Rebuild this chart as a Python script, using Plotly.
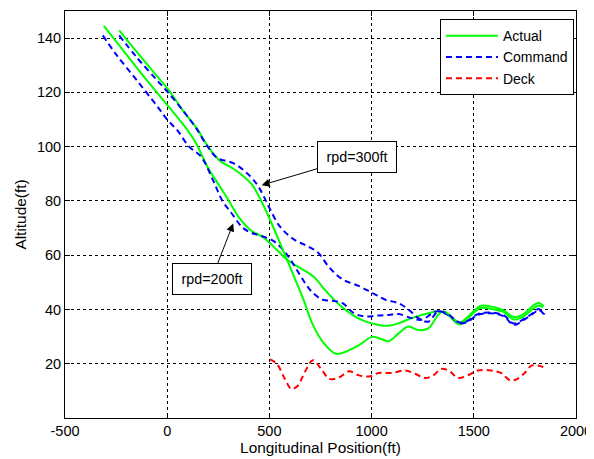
import plotly.graph_objects as go

# ---- data ----
cmd200_x = [-315, -250, -150, -50, 0, 50, 107, 165, 228, 270, 310, 367, 407, 455, 519, 584, 648, 705, 761, 810, 858, 914, 971, 1035, 1084, 1132, 1196, 1245, 1317,
            1374, 1430, 1471, 1519, 1583, 1648, 1696, 1745, 1793, 1817, 1845]
cmd200_y = [141, 134, 124.6, 115, 110, 106, 100, 96.4, 87, 80, 76, 70.3, 68.4, 67.2, 65.3, 60.4, 52.9, 46.7, 43.6, 43.2, 42.3, 38.6, 37.4, 37.8, 38.0, 38.3, 36.8, 36.2, 39.3,
            38.0, 34.9, 35.5, 38.0, 38.6, 37.4, 34.3, 36.2, 38.6, 39.9, 38.0]

act200_x = [-310, -200, -100, 4, 80, 141, 197, 260, 302, 350, 407, 471, 536, 584, 648, 713, 778, 842, 906, 971, 1035, 1084, 1132, 1196, 1277, 1326,
            1374, 1430, 1503, 1535, 1600, 1648, 1696, 1745, 1793, 1817, 1838]
act200_y = [144.5, 134, 124.5, 115, 108, 101.3, 92.6, 85, 80, 74, 69.3, 66.5, 62, 58.5, 55.4, 52.3, 46.7, 41.7, 38, 35.5, 34.3, 34.0, 34.9, 36.8, 38.6, 39.3,
            38.0, 34.5, 39.0, 40.6, 40.0, 39.0, 36.3, 37.5, 40.5, 41.4, 40.8]

cmd300_x = [-235, -150, -50, 4, 80, 140, 197, 246, 324, 391, 440, 470, 503, 552, 616, 681, 737, 794, 858, 939, 1003, 1068, 1132, 1180, 1229, 1277, 1326,
            1374, 1430, 1471, 1519, 1583, 1648, 1696, 1745, 1793, 1817, 1847]
cmd300_y = [141, 133, 124.5, 120, 113, 107, 100.1, 95.8, 93.9, 90.2, 86, 82, 77, 70.5, 66, 63.5, 61, 55.4, 51.1, 48.6, 46.1, 43.6, 42.3, 40, 36.8, 35.5, 39.3,
            38.2, 35.2, 35.8, 38.3, 38.9, 37.8, 34.8, 36.5, 38.9, 40.2, 38.2]

act300_x = [-235, -150, -50, 4, 80, 149, 200, 262, 310, 358, 415, 470, 519, 568, 616, 664, 713, 761, 826, 890, 939, 1003, 1050, 1084, 1132, 1180, 1229, 1277, 1326, 1350,
            1374, 1430, 1503, 1535, 1600, 1648, 1696, 1745, 1793, 1817, 1842]
act300_y = [142.9, 135, 126, 121.2, 113, 106.3, 100, 94.5, 92.5, 90, 86, 78.5, 70.3, 61.6, 52.9, 44.2, 34.3, 28.1, 23.7, 25, 26.9, 29.9, 29, 28.3, 31.2, 33.7, 32.4, 33.0, 38.0, 39.3,
            38.5, 35.2, 39.6, 41.4, 40.8, 39.6, 37.2, 38.4, 41.6, 42.4, 41.2]

deck_x = [503, 536, 576, 608, 640, 673, 713, 753, 794, 842, 890, 939, 987, 1035, 1100, 1164, 1213, 1261, 1301, 1342, 1382, 1422, 1471, 1519, 1583, 1632, 1680, 1712, 1745, 1785, 1840]
deck_y = [21.6, 20.0, 14.4, 10.7, 12.0, 16.9, 21.3, 18.1, 14.4, 15.0, 17.2, 15.7, 15.3, 16.6, 16.6, 17.5, 16.3, 14.7, 15.7, 18.1, 17.2, 14.8, 15.7, 17.5, 17.5, 16.6, 13.8, 14.4, 16.3, 19.4, 18.8]

x_ticks = [-500, 0, 500, 1000, 1500, 2000]
y_ticks = [20, 40, 60, 80, 100, 120, 140]

GREEN = "#00FF00"
BLUE = "#0000FF"
RED = "#FF0000"
DASH = "6px,4px"
FAM = "Liberation Sans, Arial, sans-serif"

fig = go.Figure()
fig.add_trace(go.Scatter(x=act200_x, y=act200_y, mode="lines", name="Actual", legendgroup="a",
                         line=dict(color=GREEN, width=2, shape="spline")))
fig.add_trace(go.Scatter(x=cmd200_x, y=cmd200_y, mode="lines", name="Command", legendgroup="c",
                         line=dict(color=BLUE, width=2, dash=DASH, shape="spline")))
fig.add_trace(go.Scatter(x=deck_x, y=deck_y, mode="lines", name="Deck", legendgroup="d",
                         line=dict(color=RED, width=2, dash=DASH, shape="spline")))
fig.add_trace(go.Scatter(x=act300_x, y=act300_y, mode="lines", name="Actual", legendgroup="a", showlegend=False,
                         line=dict(color=GREEN, width=2, shape="spline")))
fig.add_trace(go.Scatter(x=cmd300_x, y=cmd300_y, mode="lines", name="Command", legendgroup="c", showlegend=False,
                         line=dict(color=BLUE, width=2, dash=DASH, shape="spline")))

tick_font = dict(family=FAM, size=14.5, color="black")
title_font = dict(family=FAM, size=15.4, color="black")

fig.update_xaxes(range=[-500, 2000], tickvals=x_ticks, ticktext=[str(v) for v in x_ticks],
                 showgrid=True, gridcolor="black", griddash="3px,3px", gridwidth=1,
                 showline=True, linecolor="black", linewidth=1, mirror="allticks",
                 ticks="inside", ticklen=5, tickcolor="black", zeroline=False, automargin=False,
                 tickfont=tick_font, title=dict(text="Longitudinal Position(ft)", font=title_font, standoff=2))
fig.update_yaxes(range=[0, 150], tickvals=y_ticks, ticktext=[str(v) for v in y_ticks],
                 showgrid=True, gridcolor="black", griddash="3px,3px", gridwidth=1,
                 showline=True, linecolor="black", linewidth=1, mirror="allticks",
                 ticks="inside", ticklen=5, tickcolor="black", zeroline=False, automargin=False,
                 tickfont=tick_font, title=dict(text="Altitude(ft)", font=title_font, standoff=6))

ann_font = dict(family=FAM, size=14.3, color="black")
fig.add_annotation(x=462, y=85.8, ax=928, ay=96.2, axref="x", ayref="y",
                   text="rpd=300ft", showarrow=True, arrowhead=2, arrowsize=1.6, arrowwidth=1,
                   arrowcolor="black", bgcolor="white", bordercolor="black", borderwidth=1,
                   borderpad=5, width=68, height=20, font=ann_font)
fig.add_annotation(x=323, y=71.7, ax=218, ay=51.4, axref="x", ayref="y",
                   text="rpd=200ft", showarrow=True, arrowhead=2, arrowsize=1.6, arrowwidth=1,
                   arrowcolor="black", bgcolor="white", bordercolor="black", borderwidth=1,
                   borderpad=5, width=68, height=20, font=ann_font)

fig.update_layout(
    width=586, height=451,
    margin=dict(l=57, r=18, t=3, b=41),
    paper_bgcolor="white", plot_bgcolor="white",
    font=tick_font,
    showlegend=True,
    legend=dict(x=0.996, y=0.98, xanchor="right", yanchor="top",
                bgcolor="white", bordercolor="black", borderwidth=1,
                font=dict(family=FAM, size=14, color="black"),
                itemwidth=52, tracegroupgap=0),
)

fig.write_html("out.html")
